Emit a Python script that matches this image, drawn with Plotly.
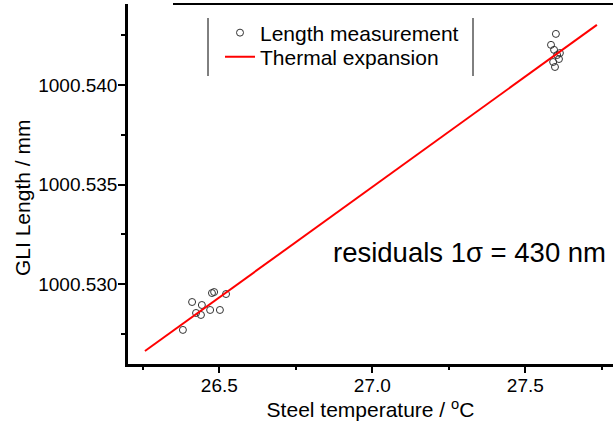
import plotly.graph_objects as go

# Measured data (steel temperature in °C, GLI length in mm)
meas_temp = [26.381, 26.411, 26.424, 26.440, 26.443, 26.470, 26.476, 26.483, 26.502, 26.522,
             27.600, 27.584, 27.594, 27.604, 27.610, 27.591, 27.597, 27.613]
meas_len = [1000.52771, 1000.52911, 1000.52856, 1000.52846, 1000.52896, 1000.52871, 1000.52956,
            1000.52961, 1000.52871, 1000.52951,
            1000.54256, 1000.54201, 1000.54176, 1000.54150, 1000.54130, 1000.54115, 1000.54090,
            1000.54160]

# Thermal expansion fit line
fit_temp = [26.257, 27.734]
fit_len = [1000.52665, 1000.54301]

x_ticks = [26.5, 27.0, 27.5]
x_ticklabels = ["26.5", "27.0", "27.5"]
y_ticks = [1000.530, 1000.535, 1000.540]
y_ticklabels = ["1000.530", "1000.535", "1000.540"]

FONT = "Liberation Sans, Arial, sans-serif"

fig = go.Figure()
fig.add_trace(go.Scatter(
    x=meas_temp, y=meas_len, mode="markers", name="Length measurement", legend="legend",
    marker=dict(symbol="circle-open", size=7, color="#333333", line=dict(width=1, color="#333333")),
))
fig.add_trace(go.Scatter(
    x=fit_temp, y=fit_len, mode="lines", name="Thermal expansion", legend="legend2",
    line=dict(color="#ff0000", width=2),
))

W, H = 613, 428
L, R, T, B = 128, 0, 4, 64
pw, ph = W - L - R, H - T - B

def px(xp):
    return (xp - L) / pw

def py(yp):
    return 1 - (yp - T) / ph

leg_common = dict(xanchor="left", yanchor="middle", bgcolor="rgba(0,0,0,0)", borderwidth=0,
                  font=dict(size=21, family=FONT, color="black"), itemwidth=30)

fig.update_layout(
    width=W, height=H,
    margin=dict(l=L, r=R, t=T, b=B, autoexpand=False),
    paper_bgcolor="white", plot_bgcolor="white",
    font=dict(family=FONT, color="black"),
    showlegend=True,
    legend=dict(x=px(220), y=py(33), **leg_common),
    legend2=dict(x=px(220), y=py(57), **leg_common),
    xaxis=dict(
        range=[26.2016, 27.7866], showgrid=False, zeroline=False,
        showline=True, linecolor="black", linewidth=2.5,
        ticks="outside", ticklen=6, tickwidth=2, tickcolor="black",
        tickvals=x_ticks, ticktext=x_ticklabels,
        tickfont=dict(size=19, family=FONT), ticklabelstandoff=-4,
        minor=dict(tickvals=[26.25, 26.75, 27.25, 27.75], ticks="outside", ticklen=3, tickwidth=2, tickcolor="black"),
        title=dict(text="Steel temperature / <sup>o</sup>C", font=dict(size=21, family=FONT), standoff=7),
        automargin=False,
    ),
    yaxis=dict(
        range=[1000.526, 1000.54406], showgrid=False, zeroline=False,
        showline=True, linecolor="black", linewidth=2.5,
        ticks="outside", ticklen=7, tickwidth=2, tickcolor="black",
        tickvals=y_ticks, ticktext=y_ticklabels,
        tickfont=dict(size=19, family=FONT), ticklabelstandoff=-3,
        minor=dict(tickvals=[1000.5275, 1000.5325, 1000.5375, 1000.5425], ticks="outside", ticklen=4, tickwidth=2, tickcolor="black"),
        automargin=False,
    ),
    shapes=[
        dict(type="line", xref="paper", yref="paper", x0=px(173), x1=1.0, y0=py(4), y1=py(4),
             line=dict(color="black", width=2)),
        dict(type="line", xref="paper", yref="paper", x0=px(208), x1=px(208), y0=py(18), y1=py(76),
             line=dict(color="black", width=1)),
        dict(type="line", xref="paper", yref="paper", x0=px(473), x1=px(473), y0=py(18), y1=py(76),
             line=dict(color="black", width=1)),
    ],
    annotations=[
        dict(text="residuals 1σ = 430 nm", xref="paper", yref="paper", x=px(331), y=py(252),
             xanchor="left", yanchor="middle", showarrow=False,
             font=dict(size=27.5, family=FONT, color="black")),
        dict(text="GLI Length / mm", xref="paper", yref="paper", x=px(22), y=py(198),
             xanchor="center", yanchor="middle", textangle=-90, showarrow=False,
             font=dict(size=21, family=FONT, color="black")),
    ],
)

fig.write_html("out.html")
